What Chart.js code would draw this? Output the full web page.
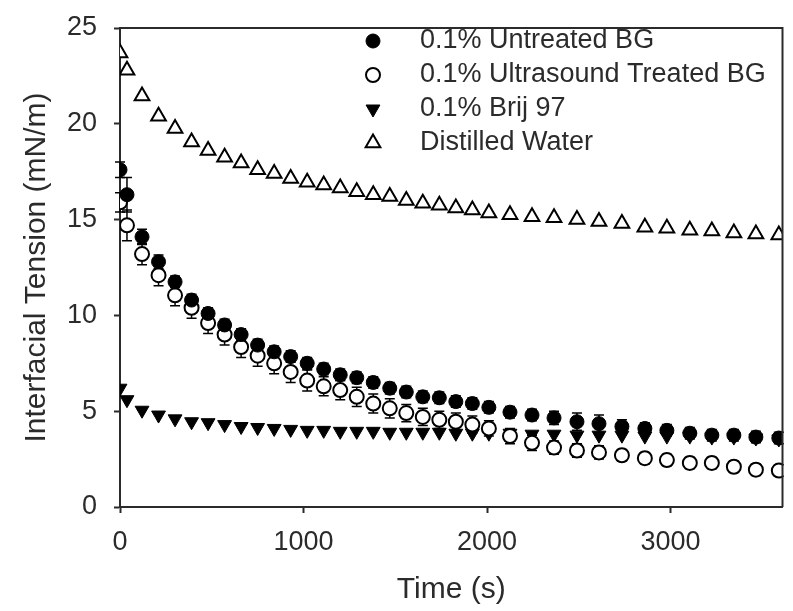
<!DOCTYPE html>
<html>
<head>
<meta charset="utf-8">
<script src="https://cdn.jsdelivr.net/npm/chart.js@4.4.1/dist/chart.umd.min.js"></script>
<style>
  body { margin: 0; background: #ffffff; }
  #wrap { width: 793px; height: 611px; }
</style>
</head>
<body>
<div id="wrap"><canvas id="tensionChart" width="793" height="611"></canvas></div>
<script>
// time (s) of each reading
const timeSec = [0, 38, 120, 210, 300, 390, 480, 570, 660, 750,
  840, 930, 1020, 1110, 1200, 1290, 1380, 1470, 1560, 1650,
  1740, 1830, 1920, 2010, 2125, 2245, 2365, 2490, 2610, 2735,
  2860, 2980, 3105, 3225, 3345, 3465, 3590];

const untreatedBG = [17.6, 16.3, 14.1, 12.8, 11.75, 10.8, 10.1, 9.5, 9.0, 8.45,
  8.1, 7.85, 7.5, 7.2, 6.9, 6.75, 6.5, 6.2, 6.0, 5.75,
  5.7, 5.5, 5.4, 5.2, 4.95, 4.8, 4.65, 4.45, 4.35, 4.2,
  4.1, 4.0, 3.85, 3.75, 3.75, 3.65, 3.6];

const ultrasoundBG = [15.9, 14.7, 13.2, 12.1, 11.05, 10.4, 9.6, 9.0, 8.35, 7.9,
  7.5, 7.05, 6.6, 6.3, 6.1, 5.75, 5.4, 5.15, 4.9, 4.7,
  4.55, 4.45, 4.3, 4.1, 3.7, 3.35, 3.1, 2.95, 2.85, 2.7,
  2.55, 2.45, 2.3, 2.3, 2.1, 1.95, 1.9];

const brij97 = [6.2, 5.6, 5.05, 4.8, 4.6, 4.45, 4.4, 4.3, 4.2, 4.15,
  4.1, 4.05, 4.0, 4.0, 3.95, 3.95, 3.95, 3.9, 3.9, 3.9,
  3.9, 3.85, 3.85, 3.85, 3.85, 3.8, 3.8, 3.75, 3.75, 3.75,
  3.7, 3.7, 3.7, 3.65, 3.65, 3.6, 3.55];

const distilledWater = [23.7, 22.8, 21.45, 20.4, 19.75, 19.05, 18.6, 18.25, 17.95, 17.6,
  17.4, 17.15, 16.95, 16.8, 16.65, 16.45, 16.3, 16.2, 16.0, 15.85,
  15.75, 15.6, 15.5, 15.35, 15.25, 15.15, 15.1, 15.0, 14.9, 14.8,
  14.6, 14.55, 14.45, 14.4, 14.3, 14.25, 14.2];

// standard deviations (error bars)
const untreatedErr = [0.4, 0.9, 0.4, 0.35, 0.3, 0.3, 0.3, 0.3, 0.3, 0.3,
  0.3, 0.3, 0.3, 0.3, 0.3, 0.3, 0.3, 0.3, 0.3, 0.3,
  0.3, 0.3, 0.3, 0.3, 0.3, 0.3, 0.35, 0.45, 0.45, 0.35,
  0.3, 0.3, 0.3, 0.3, 0.3, 0.3, 0.3];

const ultrasoundErr = [0.5, 0.8, 0.55, 0.55, 0.55, 0.55, 0.55, 0.55, 0.55, 0.55,
  0.55, 0.55, 0.55, 0.5, 0.5, 0.5, 0.5, 0.5, 0.45, 0.45,
  0.45, 0.45, 0.45, 0.4, 0.4, 0.4, 0.35, 0.35, 0.35, 0.3,
  0.3, 0.3, 0.3, 0.3, 0.3, 0.3, 0.3];

const seriesNames = ['0.1% Untreated BG', '0.1% Ultrasound Treated BG', '0.1% Brij 97', 'Distilled Water'];
const yTicks = [0, 5, 10, 15, 20, 25];
const xTicks = [0, 1000, 2000, 3000];

const textColor = '#2b2b2b';
const axisColor = '#2b2b2b';
const fontFamily = '"Liberation Sans", Arial, sans-serif';

function toPoints(values)
{
  return values.map((v, i) => ({ x: timeSec[i], y: v }));
}

const markerStyles = [
  { pointStyle: 'circle', radius: 7, rotation: 0, fill: '#000000', borderWidth: 1 },
  { pointStyle: 'circle', radius: 7, rotation: 0, fill: '#ffffff', borderWidth: 2 },
  { pointStyle: 'triangle', radius: 8, rotation: 180, fill: '#000000', borderWidth: 1 },
  { pointStyle: 'triangle', radius: 8.5, rotation: 0, fill: '#ffffff', borderWidth: 2 }
];

const seriesValues = [untreatedBG, ultrasoundBG, brij97, distilledWater];
const seriesErrors = [untreatedErr, ultrasoundErr, null, null];

// vertical error bars, drawn under the markers
const errorBarPlugin =
{
  id: 'errorBars',
  beforeDatasetsDraw(chart)
  {
    const ctx = chart.ctx;
    const xs = chart.scales.x;
    const ys = chart.scales.y;
    ctx.save();
    ctx.strokeStyle = '#000000';
    ctx.lineWidth = 1.5;
    seriesErrors.forEach((errs, s) =>
    {
      if (!errs) return;
      errs.forEach((e, i) =>
      {
        const px = xs.getPixelForValue(timeSec[i]);
        const top = ys.getPixelForValue(seriesValues[s][i] + e);
        const bot = ys.getPixelForValue(seriesValues[s][i] - e);
        ctx.beginPath();
        ctx.moveTo(px, top);
        ctx.lineTo(px, bot);
        ctx.moveTo(px - 5, top);
        ctx.lineTo(px + 5, top);
        ctx.moveTo(px - 5, bot);
        ctx.lineTo(px + 5, bot);
        ctx.stroke();
      });
    });
    ctx.restore();
  }
};

// frame round the plot area and legend inside it
const framePlugin =
{
  id: 'frame',
  afterDraw(chart)
  {
    const ctx = chart.ctx;
    const a = chart.chartArea;
    ctx.save();

    // legend
    ctx.font = '27px ' + fontFamily;
    ctx.textBaseline = 'middle';
    ctx.textAlign = 'left';
    for (let i = 0; i < seriesNames.length; i++)
    {
      const m = markerStyles[i];
      const y = 41 + i * 34;
      ctx.fillStyle = m.fill;
      ctx.strokeStyle = '#000000';
      ctx.lineWidth = m.borderWidth;
      Chart.helpers.drawPoint(ctx, { pointStyle: m.pointStyle, rotation: m.rotation, radius: m.radius, borderWidth: m.borderWidth }, a.left + 253, y);
      ctx.fillStyle = textColor;
      ctx.fillText(seriesNames[i], a.left + 300, y);
    }

    ctx.strokeStyle = axisColor;
    ctx.lineWidth = 2;
    ctx.beginPath();
    ctx.moveTo(a.left, a.top);
    ctx.lineTo(a.right, a.top);
    ctx.lineTo(a.right, a.bottom);
    ctx.stroke();
    ctx.restore();
  }
};

const ctx = document.getElementById('tensionChart').getContext('2d');

const tensionChart = new Chart(ctx,
  {
    type: 'scatter',
    data:
    {
      datasets: seriesValues.map((vals, i) => (
        {
          label: seriesNames[i],
          data: toPoints(vals),
          pointStyle: markerStyles[i].pointStyle,
          rotation: markerStyles[i].rotation,
          pointRadius: markerStyles[i].radius,
          pointHoverRadius: markerStyles[i].radius,
          backgroundColor: markerStyles[i].fill,
          borderColor: '#000000',
          borderWidth: markerStyles[i].borderWidth,
          showLine: false
        }))
    },
    options:
    {
      responsive: false,
      animation: false,
      devicePixelRatio: 1,
      layout:
      {
        padding: { top: 28, right: 7, left: 0, bottom: 0 }
      },
      scales:
      {
        x:
        {
          type: 'linear',
          min: 0,
          max: 3610,
          afterBuildTicks: (scale) => { scale.ticks = xTicks.map(v => ({ value: v })); },
          afterFit: (scale) => { scale.height = 104; },
          grid:
          {
            drawOnChartArea: false,
            drawTicks: true,
            tickLength: 6,
            tickColor: axisColor,
            tickWidth: 2
          },
          border: { display: true, color: axisColor, width: 2 },
          ticks:
          {
            color: textColor,
            padding: 13,
            maxRotation: 0,
            callback: (v) => String(v),
            font: { family: fontFamily, size: 27 }
          },
          title:
          {
            display: true,
            text: 'Time (s)',
            color: textColor,
            font: { family: fontFamily, size: 30 },
            padding: { top: 0, bottom: 3 }
          }
        },
        y:
        {
          type: 'linear',
          min: 0,
          max: 25,
          afterBuildTicks: (scale) => { scale.ticks = yTicks.map(v => ({ value: v })); },
          afterFit: (scale) =>
          {
            scale.width = 120;
            scale.paddingTop = 0;
            scale.paddingBottom = 0;
          },
          grid:
          {
            drawOnChartArea: false,
            drawTicks: true,
            tickLength: 6,
            tickColor: axisColor,
            tickWidth: 2
          },
          border: { display: true, color: axisColor, width: 2 },
          ticks:
          {
            color: textColor,
            padding: 17,
            callback: (v) => String(v),
            font: { family: fontFamily, size: 27 }
          },
          title:
          {
            display: true,
            text: 'Interfacial Tension (mN/m)',
            color: textColor,
            font: { family: fontFamily, size: 30 },
            padding: { top: 19, bottom: 0 }
          }
        }
      },
      plugins:
      {
        legend: { display: false },
        tooltip: { enabled: false }
      }
    },
    plugins: [errorBarPlugin, framePlugin]
  });
</script>
</body>
</html>
